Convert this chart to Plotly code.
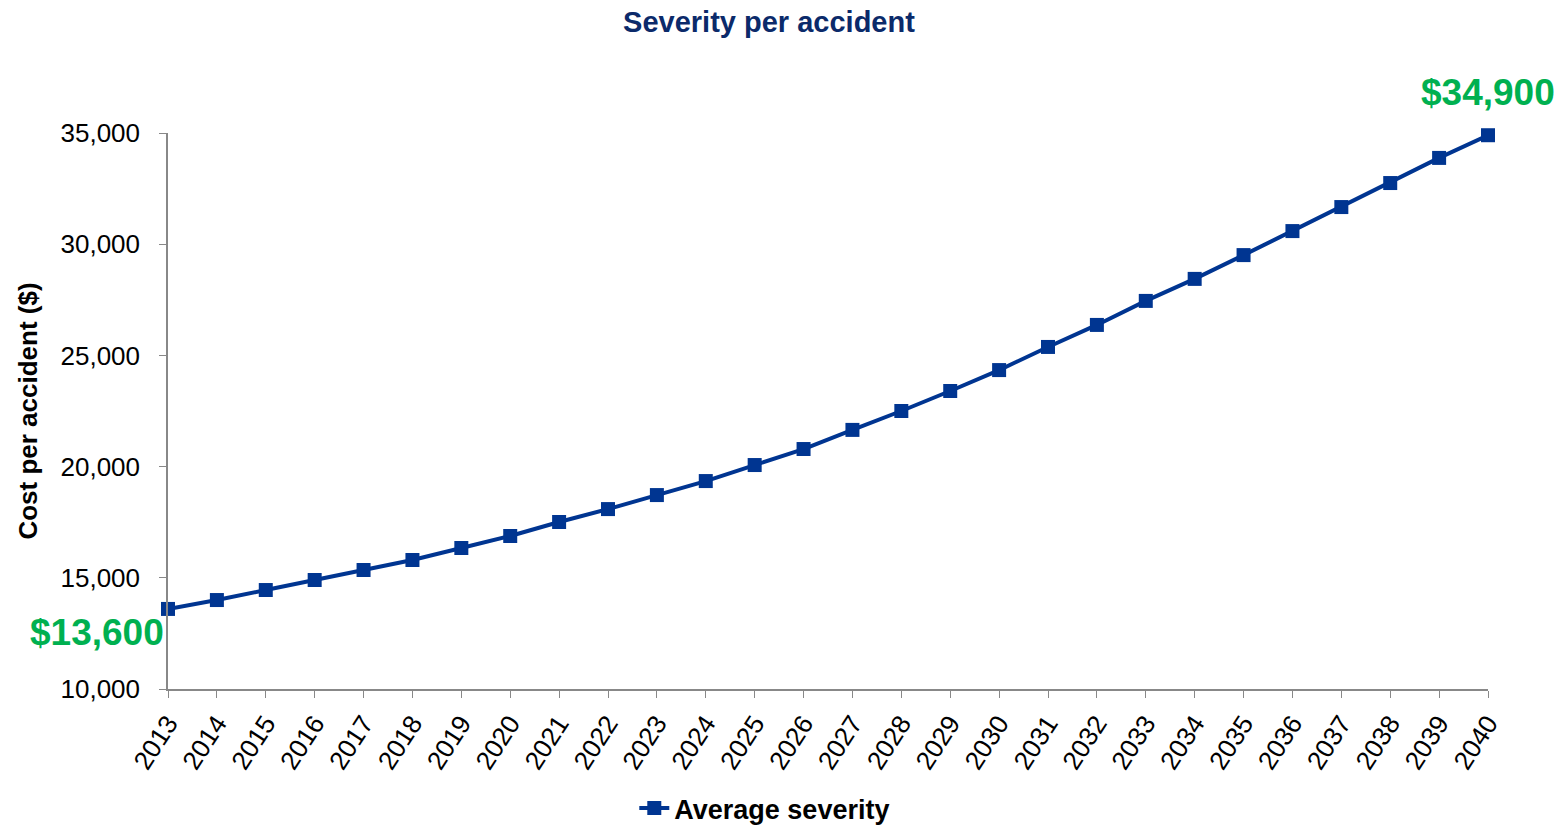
import plotly.graph_objects as go

years = list(range(2013, 2041))
avg_severity = [13600, 14000, 14450, 14900, 15350, 15800, 16340, 16880, 17510, 18090,
                18720, 19350, 20070, 20790, 21650, 22500, 23400, 24340, 25380, 26370,
                27450, 28440, 29510, 30590, 31670, 32750, 33880, 34900]
y_ticks = [10000, 15000, 20000, 25000, 30000, 35000]

navy = "#003591"
green = "#00B050"
font = "Liberation Sans, Arial, sans-serif"

fig = go.Figure()
fig.add_trace(go.Scatter(
    x=years, y=avg_severity, mode="lines+markers", name="<b>Average severity</b>",
    line=dict(color=navy, width=4),
    marker=dict(symbol="square", size=14, color=navy),
    cliponaxis=False,
))

# start and end values called out in green
fig.add_annotation(x=years[0], y=avg_severity[0], text=f"<b>${avg_severity[0]:,}</b>",
                   showarrow=False, xanchor="right", yanchor="middle", xshift=-2, yshift=-24,
                   font=dict(family=font, size=37, color=green))
fig.add_annotation(x=years[-1], y=avg_severity[-1], text=f"<b>${avg_severity[-1]:,}</b>",
                   showarrow=False, xanchor="center", yanchor="middle", xshift=0, yshift=43,
                   font=dict(family=font, size=37, color=green))

fig.update_layout(
    width=1564, height=825,
    margin=dict(l=168, r=76, t=133, b=136),
    paper_bgcolor="white", plot_bgcolor="white",
    font=dict(family=font, size=24, color="black"),
    title=dict(text="<b>Severity per accident</b>", x=769 / 1564, xanchor="center",
               y=0.973, yanchor="middle", xref="container", yref="container",
               font=dict(family=font, size=29, color="#0B2A6A")),
    showlegend=True,
    legend=dict(orientation="h", xref="container", yref="container",
                x=0.489, xanchor="center", y=0.02, yanchor="middle",
                font=dict(family=font, size=27, color="black"),
                bgcolor="rgba(0,0,0,0)"),
)
fig.update_xaxes(range=[2013, 2040], tickmode="array", tickvals=years,
                 ticktext=[str(y) for y in years], tickangle=-57,
                 showline=True, linecolor="#888888", linewidth=1.5,
                 ticks="outside", ticklen=7, tickcolor="#888888",
                 showgrid=False, zeroline=False, automargin=False,
                 tickfont=dict(family=font, size=26, color="black"))
fig.update_yaxes(range=[10000, 35000], tickmode="array", tickvals=y_ticks,
                 ticktext=[f"{v:,}" for v in y_ticks],
                 showline=True, linecolor="#888888", linewidth=1.5,
                 ticks="outside", ticklen=7, tickcolor="#888888",
                 ticklabelstandoff=14,
                 showgrid=False, zeroline=False, automargin=False,
                 title=dict(text="<b>Cost per accident ($)</b>",
                            font=dict(family=font, size=26, color="black")),
                 tickfont=dict(family=font, size=26, color="black"))

fig.write_html("out.html")
